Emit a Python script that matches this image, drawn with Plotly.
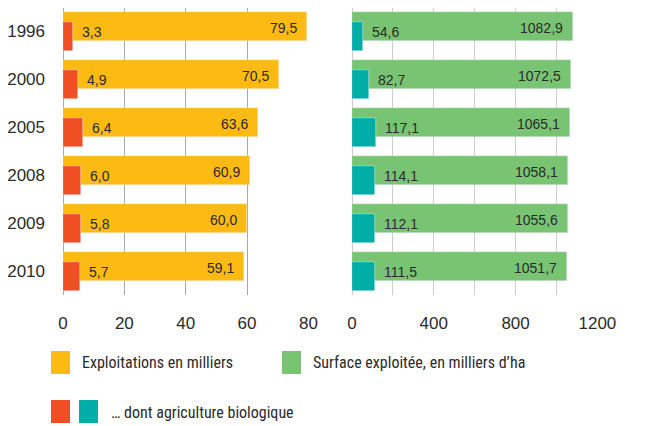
import plotly.graph_objects as go

years = ["1996", "2000", "2005", "2008", "2009", "2010"]
exploitations = [79.5, 70.5, 63.6, 60.9, 60.0, 59.1]
exploitations_bio = [3.3, 4.9, 6.4, 6.0, 5.8, 5.7]
surface = [1082.9, 1072.5, 1065.1, 1058.1, 1055.6, 1051.7]
surface_bio = [54.6, 82.7, 117.1, 114.1, 112.1, 111.5]
left_ticks = [0, 20, 40, 60, 80]
right_ticks = [0, 200, 400, 600, 800, 1000, 1200]
right_ticktext = ["0", "", "400", "", "800", "", "1200"]
legend_labels = ["Exploitations en milliers", "Surface exploitée, en milliers d\u2019ha",
                 "\u2026 dont agriculture biologique"]

YELLOW = "#FCBA12"
RED = "#F04E23"
GREEN = "#79C472"
TEAL = "#00AEA7"
TXT = "#2b2b2b"
NUM_FONT = "Liberation Sans, Arial, sans-serif"
LEG_FONT = "Roboto Condensed, Liberation Sans, sans-serif"

# page has an 8px body margin: figure pixel = page pixel - OFF
OFF = 8
W, H = 646 - OFF, 426 - OFF
PT, PB = 7 - OFF, 295 - OFF  # plot top/bottom in figure px (top may be <0 -> clamp)
PT = max(PT, 0)

def fmt(v):
    return f"{v:.1f}".replace(".", ",")

fig = go.Figure()
BW = 0.604
fig.add_trace(go.Bar(y=years, x=exploitations, orientation="h", marker_color=YELLOW,
                     width=BW, offset=-0.406, xaxis="x", yaxis="y", hoverinfo="skip"))
fig.add_trace(go.Bar(y=years, x=exploitations_bio, orientation="h", marker_color=RED,
                     width=BW, offset=-0.198, xaxis="x", yaxis="y", hoverinfo="skip"))
fig.add_trace(go.Bar(y=years, x=surface, orientation="h", marker_color=GREEN,
                     width=BW, offset=-0.406, xaxis="x2", yaxis="y2", hoverinfo="skip"))
fig.add_trace(go.Bar(y=years, x=surface_bio, orientation="h", marker_color=TEAL,
                     width=BW, offset=-0.198, xaxis="x2", yaxis="y2", hoverinfo="skip"))

ann = []
for i, (big, small) in enumerate(zip(exploitations, exploitations_bio)):
    ann.append(dict(x=big, y=i, xref="x", yref="y", text=fmt(big), showarrow=False,
                    xanchor="right", xshift=-8, yshift=3.5,
                    font=dict(family=NUM_FONT, size=14, color=TXT)))
    ann.append(dict(x=small, y=i, xref="x", yref="y", text=fmt(small), showarrow=False,
                    xanchor="left", xshift=7, yshift=-1,
                    font=dict(family=NUM_FONT, size=14, color=TXT)))
for i, (big, small) in enumerate(zip(surface, surface_bio)):
    ann.append(dict(x=big, y=i, xref="x2", yref="y2", text=fmt(big), showarrow=False,
                    xanchor="right", xshift=-8, yshift=3.5,
                    font=dict(family=NUM_FONT, size=14, color=TXT)))
    ann.append(dict(x=small, y=i, xref="x2", yref="y2", text=fmt(small), showarrow=False,
                    xanchor="left", xshift=7, yshift=-1,
                    font=dict(family=NUM_FONT, size=14, color=TXT)))

def px(x):
    return (x - OFF) / W

def py(y):
    return (PB - (y - OFF)) / (PB - PT)

shapes = []
def sq(x0, x1, y0, y1, color):
    shapes.append(dict(type="rect", xref="paper", yref="paper",
                       x0=px(x0), x1=px(x1), y0=py(y1), y1=py(y0),
                       fillcolor=color, line=dict(width=0)))

sq(51, 70, 351, 374, YELLOW)
sq(282, 301, 351, 374, GREEN)
sq(51, 70, 400, 423, RED)
sq(79, 98, 400, 423, TEAL)

for text, x, y in [(legend_labels[0], 80, 362), (legend_labels[1], 311, 362), (legend_labels[2], 109, 412)]:
    ann.append(dict(x=px(x), y=py(y), xref="paper", yref="paper", text=text, showarrow=False,
                    xanchor="left", yanchor="middle",
                    font=dict(family=LEG_FONT, size=16, color=TXT)))

# plot top in page px is 7 -> figure px -1; extend range so that category spacing stays 48px
top_units = -0.51 + (OFF - 7) / 48.0
yrange = [5.49, top_units]
fig.update_layout(
    width=W, height=H, margin=dict(l=0, r=0, t=PT, b=H - PB, autoexpand=False),
    paper_bgcolor="white", plot_bgcolor="white", showlegend=False,
    barmode="overlay", bargap=0,
    annotations=ann, shapes=shapes,
    xaxis=dict(domain=[px(63), px(309)], range=[0, 80.2], tickvals=left_ticks,
               showgrid=True, gridcolor="#a8a8a8", gridwidth=1, automargin=False,
               zeroline=True, zerolinecolor="#a8a8a8", zerolinewidth=1,
               showline=False, ticks="", ticklabelstandoff=16,
               tickfont=dict(family=NUM_FONT, size=17, color=TXT)),
    yaxis=dict(type="category", categoryorder="array", categoryarray=years, range=yrange,
               showgrid=False, zeroline=False, showline=False, ticks="", automargin=False,
               ticklabelstandoff=17, anchor="x",
               tickfont=dict(family=NUM_FONT, size=17, color=TXT)),
    xaxis2=dict(domain=[px(352), px(598)], range=[0, 1203], tickvals=right_ticks,
                ticktext=right_ticktext, anchor="y2", automargin=False,
                showgrid=True, gridcolor="#cccccc", gridwidth=1,
                zeroline=True, zerolinecolor="#cccccc", zerolinewidth=1,
                showline=False, ticks="", ticklabelstandoff=16,
                tickfont=dict(family=NUM_FONT, size=17, color=TXT)),
    yaxis2=dict(type="category", categoryorder="array", categoryarray=years, range=yrange,
                anchor="x2", showgrid=False, zeroline=False, showline=False, automargin=False,
                showticklabels=False, ticks=""),
)

fig.write_html("out.html")
